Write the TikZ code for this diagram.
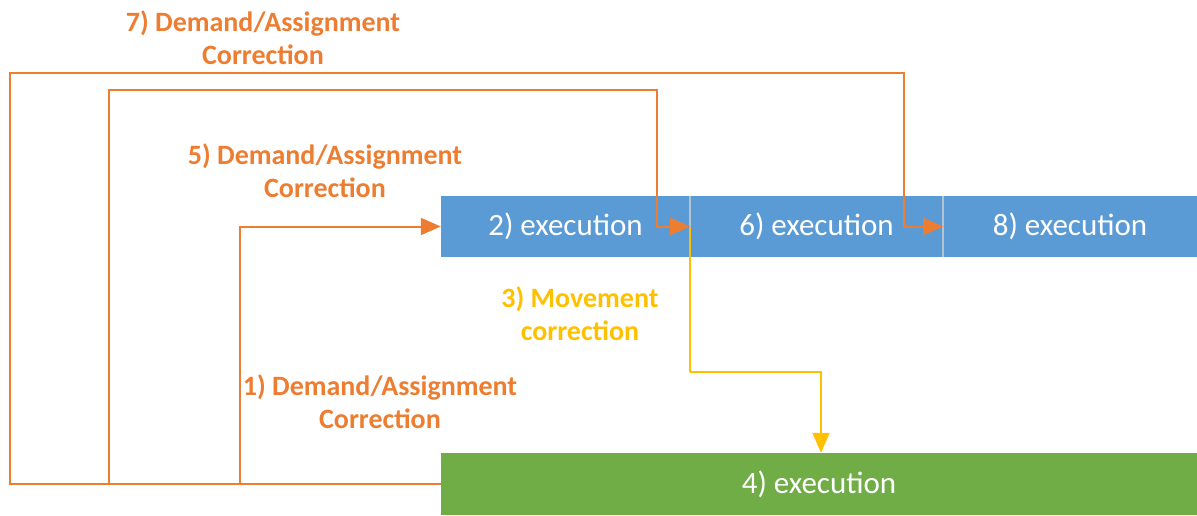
\documentclass[tikz,border=0pt]{standalone}
\usepackage{fontspec}
\setmainfont{Carlito}
\usetikzlibrary{arrows.meta}
\definecolor{corange}{HTML}{ED7D31}
\definecolor{cblue}{HTML}{5B9BD5}
\definecolor{cgreen}{HTML}{70AD47}
\definecolor{cyellow}{HTML}{FFC000}
\definecolor{csep}{HTML}{B4C3D0}
\tikzset{
  bluebox/.style={fill=cblue, draw=none, inner sep=0pt, minimum height=61pt, text=white, font=\fontsize{31}{36}\selectfont},
  greenbox/.style={fill=cgreen, draw=none, inner sep=0pt, minimum height=62pt, minimum width=756pt, text=white, font=\fontsize{31}{36}\selectfont},
  lab/.style={font=\bfseries\fontsize{28}{33}\selectfont, align=center, inner sep=0pt},
  oline/.style={draw=corange, line width=2pt, -{Triangle[length=20pt,width=17pt]}},
  yline/.style={draw=cyellow, line width=2pt, -{Triangle[length=20pt,width=17pt]}},
  sep/.style={draw=csep, line width=1.5pt},
}
\begin{document}
\begin{tikzpicture}[x=1pt,y=-1pt]
\useasboundingbox (0,0) rectangle (1197,516);
\node[bluebox, minimum width=249pt] (b2) at (565.5,226.5) {2) execution};
\node[bluebox, minimum width=253pt] (b6) at (816.5,226.5) {6) execution};
\node[bluebox, minimum width=254pt] (b8) at (1070,226.5) {8) execution};
\draw[sep] (b2.north east) -- (b2.south east);
\draw[sep] (b6.north east) -- (b6.south east);
\node[greenbox] (g) at (819,484) {4) execution};

\coordinate (p1) at (240,484);
\coordinate (p5) at (109,484);
\coordinate (q5) at (657,90);
\coordinate (p7) at (10,484);
\coordinate (q7) at (904,73);
\coordinate (y1) at (690,372);
\coordinate (y2) at (821,372);

\draw[oline] (g.west) -- (p1) |- (b2.west);
\draw[oline] (g.west) -- (p5) |- (q5) |- (b2.east);
\draw[oline] (g.west) -- (p7) |- (q7) |- (b6.east);
\draw[yline] (b2.east) |- (y1) -- (y2) -- (y2 |- g.north);

\node[lab, text=corange] (l7) at (263,38) {7) Demand/Assignment\\Correction};
\node[lab, text=corange] (l5) at (325,171) {5) Demand/Assignment\\Correction};
\node[lab, text=cyellow] (l3) at (580,314) {3) Movement\\correction};
\node[lab, text=corange] (l1) at (380,402) {1) Demand/Assignment\\Correction};
\end{tikzpicture}
\end{document}
